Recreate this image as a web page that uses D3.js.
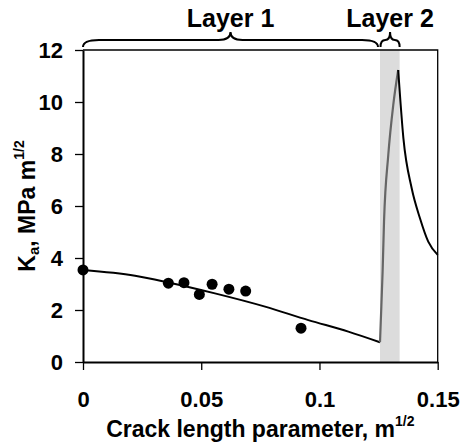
<!DOCTYPE html>
<html>
<head>
<meta charset="utf-8">
<script src="https://cdn.jsdelivr.net/npm/d3@7"></script>
<style>
  body { margin: 0; background: #fff; }
  text { font-family: Arial, "Liberation Sans", sans-serif; font-weight: bold; }
</style>
</head>
<body>
<div id="wrapper"></div>
<script>
// measured points
const pointsX = [0, 0.0361, 0.0427, 0.0492, 0.0546, 0.0617, 0.0688, 0.0922]
const pointsY = [3.54, 3.03, 3.05, 2.60, 2.99, 2.80, 2.73, 1.30]

// model curve, layer 1
const curve1X = [0, 0.022, 0.0361, 0.0558, 0.0770, 0.0953, 0.1122, 0.1256]
const curve1Y = [3.54, 3.32, 3.06, 2.64, 2.13, 1.61, 1.17, 0.76]

// rise inside layer 2 (grey)
const riseX = [0.1256, 0.1259, 0.1267, 0.1273, 0.1291, 0.1312, 0.1333]
const riseY = [0.76, 1.5, 3.47, 5.40, 7.96, 9.88, 11.23]

// fall after layer 2
const fallX = [0.1333, 0.1355, 0.1390, 0.1425, 0.1460, 0.15]
const fallY = [11.23, 8.60, 6.68, 5.53, 4.63, 4.12]

// layers
const layerNames = ["Layer 1", "Layer 2"]
const layerFrom = [0, 0.1256]
const layerTo = [0.1256, 0.1339]

const xTicks = [0, 0.05, 0.1, 0.15]
const xTickLabels = ["0", "0.05", "0.1", "0.15"]
const yTicks = [0, 2, 4, 6, 8, 10, 12]

function drawChart(){
    //1) dimensions
    let dimensions = {
        width: 465,
        height: 446,
        margin: { top: 50, right: 27.3, bottom: 84, left: 83 },
    }
    dimensions.boundedWidth = dimensions.width - dimensions.margin.left - dimensions.margin.right
    dimensions.boundedHeight = dimensions.height - dimensions.margin.top - dimensions.margin.bottom

    //2) canvas
    const wrapper = d3.select("#wrapper")
        .append("svg")
        .attr("width", dimensions.width)
        .attr("height", dimensions.height)

    const bounds = wrapper.append("g")
        .attr("transform", `translate(${dimensions.margin.left},${dimensions.margin.top})`)

    //3) scales
    const xScale = d3.scaleLinear()
        .domain([0, 0.15])
        .range([0, dimensions.boundedWidth])
    const yScale = d3.scaleLinear()
        .domain([0, 12])
        .range([dimensions.boundedHeight, 0])

    //4) layer 2 band
    bounds.append("rect")
        .attr("x", xScale(layerFrom[1]))
        .attr("y", 0)
        .attr("width", xScale(layerTo[1]) - xScale(layerFrom[1]))
        .attr("height", dimensions.boundedHeight)
        .attr("fill", "#dcdcdc")

    // frame top + right
    bounds.append("path")
        .attr("d", `M0,0H${dimensions.boundedWidth}V${dimensions.boundedHeight}`)
        .attr("fill", "none")
        .attr("stroke", "#000")
        .attr("stroke-width", 1.3)

    //5) axes
    const yAxis = d3.axisLeft(yScale)
        .tickValues(yTicks)
        .tickSizeInner(8)
        .tickSizeOuter(0)
        .tickPadding(12)
    const yAxisG = bounds.append("g").call(yAxis)
    yAxisG.select(".domain").attr("stroke-width", 2)
    yAxisG.selectAll(".tick line").attr("stroke-width", 1.3)
    yAxisG.selectAll("text")
        .attr("font-size", 22)
        .attr("font-family", null)
        .attr("fill", "#000")

    const xAxis = d3.axisBottom(xScale)
        .tickValues(xTicks)
        .tickFormat((d, i) => xTickLabels[i])
        .tickSizeInner(8)
        .tickSizeOuter(0)
        .tickPadding(21)
    const xAxisG = bounds.append("g")
        .attr("transform", `translate(0,${dimensions.boundedHeight})`)
        .call(xAxis)
    xAxisG.select(".domain").attr("stroke-width", 2)
    xAxisG.selectAll(".tick line").attr("stroke-width", 1.3)
    xAxisG.selectAll("text")
        .attr("font-size", 22)
        .attr("font-family", null)
        .attr("fill", "#000")

    //6) lines
    const line = d3.line()
        .x(d => xScale(d[0]))
        .y(d => yScale(d[1]))
        .curve(d3.curveMonotoneX)

    bounds.append("path")
        .datum(d3.zip(curve1X, curve1Y))
        .attr("d", line)
        .attr("fill", "none")
        .attr("stroke", "#000")
        .attr("stroke-width", 2)

    bounds.append("path")
        .datum(d3.zip(riseX, riseY))
        .attr("d", line)
        .attr("fill", "none")
        .attr("stroke", "#666")
        .attr("stroke-width", 2.2)

    bounds.append("path")
        .datum(d3.zip(fallX, fallY))
        .attr("d", line)
        .attr("fill", "none")
        .attr("stroke", "#000")
        .attr("stroke-width", 2)

    //7) dots
    bounds.selectAll("circle")
        .data(d3.zip(pointsX, pointsY))
        .enter()
        .append("circle")
        .attr("cx", d => xScale(d[0]))
        .attr("cy", d => yScale(d[1]))
        .attr("r", 5.5)
        .attr("fill", "#000")

    //8) braces + layer labels
    const brace = (x0, x1) => {
        const yb = -3, yt = -10, ytip = -18
        const xm = (x0 + x1) / 2
        const r = Math.min(16, (x1 - x0) / 4)
        const rt = Math.min(12, (x1 - x0) / 4)
        return `M${x0},${yb}Q${x0},${yt} ${x0 + r},${yt}` +
            `H${xm - rt}Q${xm},${yt} ${xm},${ytip}` +
            `Q${xm},${yt} ${xm + rt},${yt}` +
            `H${x1 - r}Q${x1},${yt} ${x1},${yb}`
    }

    layerNames.forEach((name, i) => {
        const x0 = xScale(layerFrom[i]) + (i === 0 ? 0 : 0.5)
        const x1 = xScale(layerTo[i]) - (i === 0 ? 2 : 0)
        bounds.append("path")
            .attr("d", brace(x0, x1))
            .attr("fill", "none")
            .attr("stroke", "#000")
            .attr("stroke-width", 2)
        bounds.append("text")
            .attr("x", Math.min((x0 + x1) / 2, dimensions.boundedWidth - 46))
            .attr("y", -23)
            .attr("text-anchor", "middle")
            .attr("font-size", 25)
            .text(name)
    })

    //9) axis titles
    const xTitle = wrapper.append("text")
        .attr("x", dimensions.margin.left + dimensions.boundedWidth / 2)
        .attr("y", 437)
        .attr("text-anchor", "middle")
        .attr("font-size", 23)
    xTitle.append("tspan").text("Crack length parameter, m")
    xTitle.append("tspan").attr("dy", -11).attr("font-size", 14).text("1/2")

    const yTitle = wrapper.append("text")
        .attr("transform", `translate(35,${dimensions.margin.top + dimensions.boundedHeight / 2}) rotate(-90)`)
        .attr("text-anchor", "middle")
        .attr("font-size", 23)
    yTitle.append("tspan").text("K")
    yTitle.append("tspan").attr("dy", 4).attr("font-size", 15).text("a")
    yTitle.append("tspan").attr("dy", -4).text(", MPa m")
    yTitle.append("tspan").attr("dy", -11).attr("font-size", 14).text("1/2")
}
drawChart()
</script>
</body>
</html>
